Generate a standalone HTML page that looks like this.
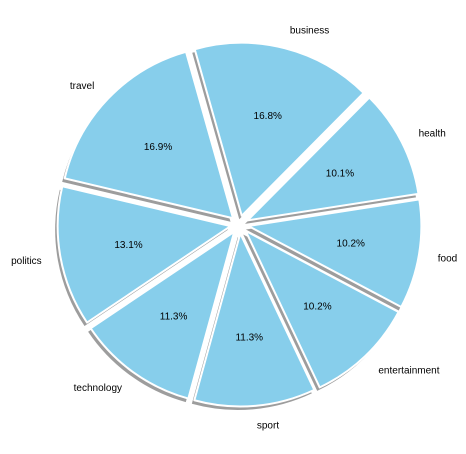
<!DOCTYPE html>
<html><head><meta charset="utf-8"><style>
html,body{margin:0;padding:0;background:#fff}
svg text{font-family:"Liberation Sans","DejaVu Sans",sans-serif;font-size:10px;fill:#000}
</style></head><body>
<svg id="chart" width="466" height="449" viewBox="0 0 466 449" xmlns="http://www.w3.org/2000/svg">
<rect width="466" height="449" fill="#fff"/>
<g id="shadows"></g>
<g id="wedges"></g>
<g id="labels"></g>
</svg>
<script>
const categories = ["sport","entertainment","food","health","business","travel","politics","technology"];
const percents = [11.3, 10.2, 10.2, 10.1, 16.8, 16.9, 13.1, 11.3];
const startAngle = -105.4;
const cx = 239.5, cy = 224.5, r = 173, explode = 9;
const NS = "http://www.w3.org/2000/svg";
const sh = document.getElementById('shadows'), wg = document.getElementById('wedges'), lg = document.getElementById('labels');
const total = percents.reduce((a,b)=>a+b,0);
function pt(x,y,rad,deg){const a=deg*Math.PI/180;return [x+rad*Math.cos(a), y-rad*Math.sin(a)];}
function wedgePath(x,y,a0,a1){
  const p0=pt(x,y,r,a0), p1=pt(x,y,r,a1), large=(a1-a0)>180?1:0;
  return `M${x},${y} L${p0[0]},${p0[1]} A${r},${r} 0 ${large} 0 ${p1[0]},${p1[1]} Z`;
}
let a = startAngle;
categories.forEach((c,i)=>{
  const span = percents[i]/total*360;
  const a0=a, a1=a+span, mid=(a0+a1)/2;
  a=a1;
  const [ox,oy]=pt(cx,cy,explode,mid);
  const s=document.createElementNS(NS,'path');
  s.setAttribute('d',wedgePath(ox-2.5,oy+3.5,a0,a1));
  s.setAttribute('fill','#8c8c8c');
  s.setAttribute('fill-opacity','0.85');
  
  
  sh.appendChild(s);
  const w=document.createElementNS(NS,'path');
  w.setAttribute('d',wedgePath(ox,oy,a0,a1));
  w.setAttribute('fill','#87ceeb');
  w.setAttribute('stroke','#fff');
  w.setAttribute('stroke-width','2');
  w.setAttribute('stroke-linejoin','round');
  
  
  wg.appendChild(w);
  const pp=pt(ox,oy,r*0.6,mid);
  const t=document.createElementNS(NS,'text');
  t.setAttribute('x',pp[0]);t.setAttribute('y',pp[1]+3.5);
  t.setAttribute('text-anchor','middle');
  t.textContent=percents[i].toFixed(1)+'%';
  
  
  lg.appendChild(t);
  const lp=pt(ox,oy,r*1.11,mid);
  const l=document.createElementNS(NS,'text');
  l.setAttribute('x',lp[0]);l.setAttribute('y',lp[1]+3.5);
  l.setAttribute('text-anchor',Math.cos(mid*Math.PI/180)>=0?'start':'end');
  l.textContent=c;
  
  
  lg.appendChild(l);
});
</script>
</body></html>
